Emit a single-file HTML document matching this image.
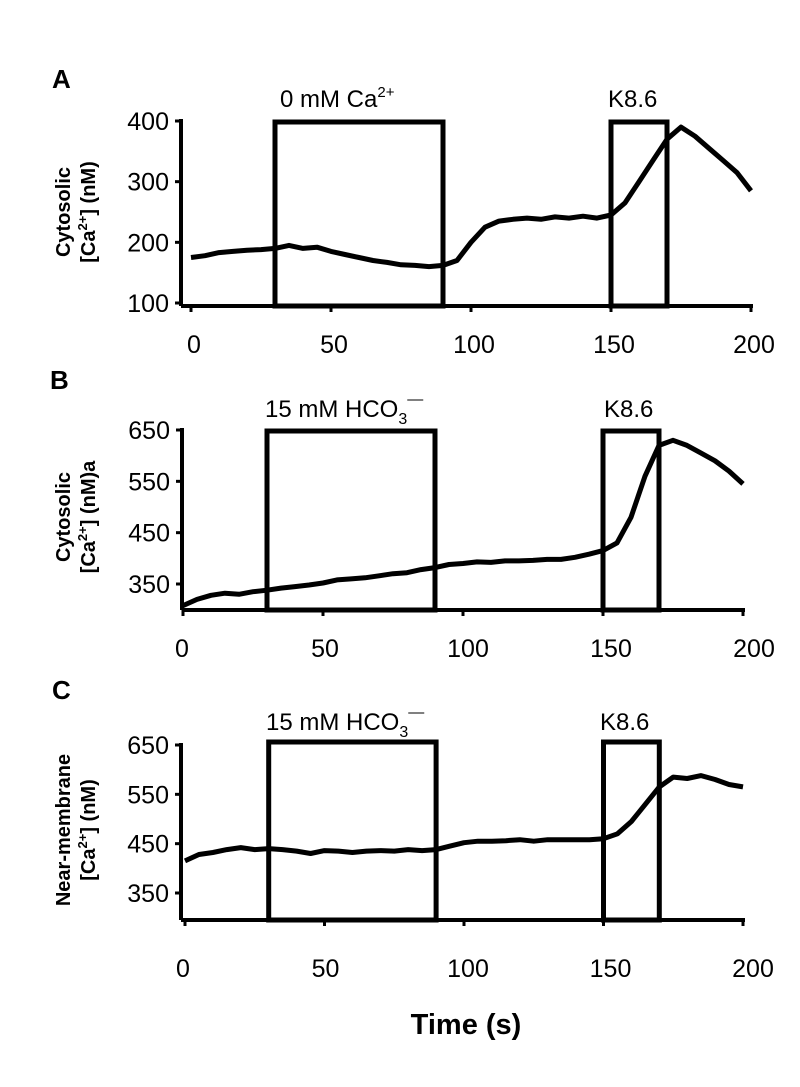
<!DOCTYPE html>
<html><head><meta charset="utf-8">
<style>
html,body{margin:0;padding:0;background:#fff;}
svg{display:block;font-family:"Liberation Sans",Arial,sans-serif;}
</style></head>
<body>
<svg id="fig" width="800" height="1087" viewBox="0 0 800 1087" xmlns="http://www.w3.org/2000/svg">
<text x="52" y="88" font-size="26" font-weight="bold">A</text>
<text x="50" y="389" font-size="26" font-weight="bold">B</text>
<text x="52" y="699" font-size="26" font-weight="bold">C</text>

<text x="280" y="107" font-size="24">0 mM Ca<tspan font-size="15" dy="-10">2+</tspan></text>
<text x="608" y="107" font-size="24">K8.6</text>
<text x="265" y="417" font-size="24">15 mM HCO<tspan font-size="16" dy="7">3</tspan><tspan font-size="16" dy="-20">&#8212;</tspan></text>
<text x="604" y="417" font-size="24">K8.6</text>
<text x="266" y="730" font-size="24">15 mM HCO<tspan font-size="16" dy="7">3</tspan><tspan font-size="16" dy="-20">&#8212;</tspan></text>
<text x="600" y="730" font-size="24">K8.6</text>

<g transform="translate(70,212) rotate(-90)">
<text x="0" y="0" font-size="20" font-weight="bold" text-anchor="middle">Cytosolic</text>
<text x="0" y="25" font-size="20" font-weight="bold" text-anchor="middle">[Ca<tspan font-size="13" dy="-8">2+</tspan><tspan dy="8">] (nM)</tspan></text>
</g>
<g transform="translate(70,517) rotate(-90)">
<text x="0" y="0" font-size="20" font-weight="bold" text-anchor="middle">Cytosolic</text>
<text x="0" y="25" font-size="20" font-weight="bold" text-anchor="middle">[Ca<tspan font-size="13" dy="-8">2+</tspan><tspan dy="8">] (nM)a</tspan></text>
</g>
<g transform="translate(70,830) rotate(-90)">
<text x="0" y="0" font-size="20" font-weight="bold" text-anchor="middle">Near-membrane</text>
<text x="0" y="25" font-size="20" font-weight="bold" text-anchor="middle">[Ca<tspan font-size="13" dy="-8">2+</tspan><tspan dy="8">] (nM)</tspan></text>
</g>

<text x="466" y="1034" font-size="29" font-weight="bold" text-anchor="middle">Time (s)</text>
</svg>
<script>
const timeStep = 5;
const xTicks = [0, 50, 100, 150, 200];
const aValues = [175,178,183,185,187,188,190,195,190,192,185,180,175,170,167,163,162,160,162,170,200,225,235,238,240,238,242,240,243,240,245,265,300,335,370,390,375,355,335,315,285];
const bValues = [308,320,328,332,330,335,338,342,345,348,352,358,360,362,366,370,372,378,382,388,390,393,392,395,395,396,398,398,402,408,415,430,480,560,620,630,620,605,590,570,545];
const cValues = [415,428,432,438,442,438,440,438,435,430,436,435,432,435,436,435,438,436,438,445,452,455,455,456,458,455,458,458,458,458,460,470,495,530,565,585,582,588,580,570,565];
const aYTicks = [100, 200, 300, 400];
const bYTicks = [350, 450, 550, 650];
const cYTicks = [350, 450, 550, 650];
const treatWindow = [30, 90];
const kWindow = [150, 170];

const NS = 'http://www.w3.org/2000/svg';
const svg = document.getElementById('fig');
function mk(tag, attrs, parent) {
  const e = document.createElementNS(NS, tag);
  for (const k in attrs) e.setAttribute(k, attrs[k]);
  (parent || svg).appendChild(e);
  return e;
}

function panel(id, cfg, values, yTicks) {
  const g = mk('g', {});
  
  
  const x = t => cfg.x0 + t * cfg.sx;
  const y = v => cfg.yTop + (cfg.vTop - v) * (cfg.yBot - cfg.yTop) / (cfg.vTop - cfg.vBot);
  const yEnd = cfg.axisBottom;
  const ya = mk('line', {x1: cfg.yAxisX, y1: y(cfg.vTop) - 2, x2: cfg.yAxisX, y2: yEnd, stroke: '#000', 'stroke-width': 4}, g);
  
  
  yTicks.forEach(v => {
    mk('line', {x1: cfg.yAxisX - 6, y1: y(v), x2: cfg.yAxisX, y2: y(v), stroke: '#000', 'stroke-width': 3}, g);
    const t = mk('text', {x: cfg.yAxisX - 12, y: y(v) + 9, 'font-size': 25, 'text-anchor': 'end'}, g);
    t.textContent = v;
    
    
  });
  const xa = mk('line', {x1: cfg.yAxisX, y1: cfg.xAxisY, x2: x(200) + 2, y2: cfg.xAxisY, stroke: '#000', 'stroke-width': 4}, g);
  
  
  xTicks.forEach(v => {
    mk('line', {x1: x(v), y1: cfg.xAxisY, x2: x(v), y2: cfg.xAxisY + 6, stroke: '#000', 'stroke-width': 3}, g);
    const t = mk('text', {x: x(v) + cfg.labOff + v * cfg.labSlope, y: cfg.xLabelY, 'font-size': 25, 'text-anchor': 'middle'}, g);
    t.textContent = v;
    
    
  });
  [[treatWindow, 'treatment-box'], [kWindow, 'k86-box']].forEach(([w, n]) => {
    const r = mk('rect', {x: x(w[0]), y: cfg.boxTop, width: x(w[1]) - x(w[0]), height: cfg.xAxisY - cfg.boxTop, fill: 'none', stroke: '#000', 'stroke-width': 5}, g);
    
    
  });
  const d = values.map((v, i) => (i ? 'L' : 'M') + x(i * timeStep).toFixed(1) + ' ' + y(v).toFixed(1)).join(' ');
  const p = mk('path', {d: d, fill: 'none', stroke: '#000', 'stroke-width': 5, 'stroke-linejoin': 'round'}, g);
  
  
}

panel('a', {x0: 191, sx: 2.8, yAxisX: 181, yTop: 121, yBot: 303, vTop: 400, vBot: 100, axisBottom: 306, xAxisY: 306, boxTop: 122, xLabelY: 353, labOff: 3, labSlope: 0}, aValues, aYTicks);
panel('b', {x0: 183, sx: 2.8, yAxisX: 182, yTop: 430, yBot: 584, vTop: 650, vBot: 350, axisBottom: 610, xAxisY: 610, boxTop: 431, xLabelY: 657, labOff: -1, labSlope: 0.06}, bValues, bYTicks);
panel('c', {x0: 185, sx: 2.79, yAxisX: 181, yTop: 745, yBot: 893, vTop: 650, vBot: 350, axisBottom: 920, xAxisY: 920, boxTop: 742, xLabelY: 977, labOff: -2, labSlope: 0.06}, cValues, cYTicks);
</script>
</body></html>
